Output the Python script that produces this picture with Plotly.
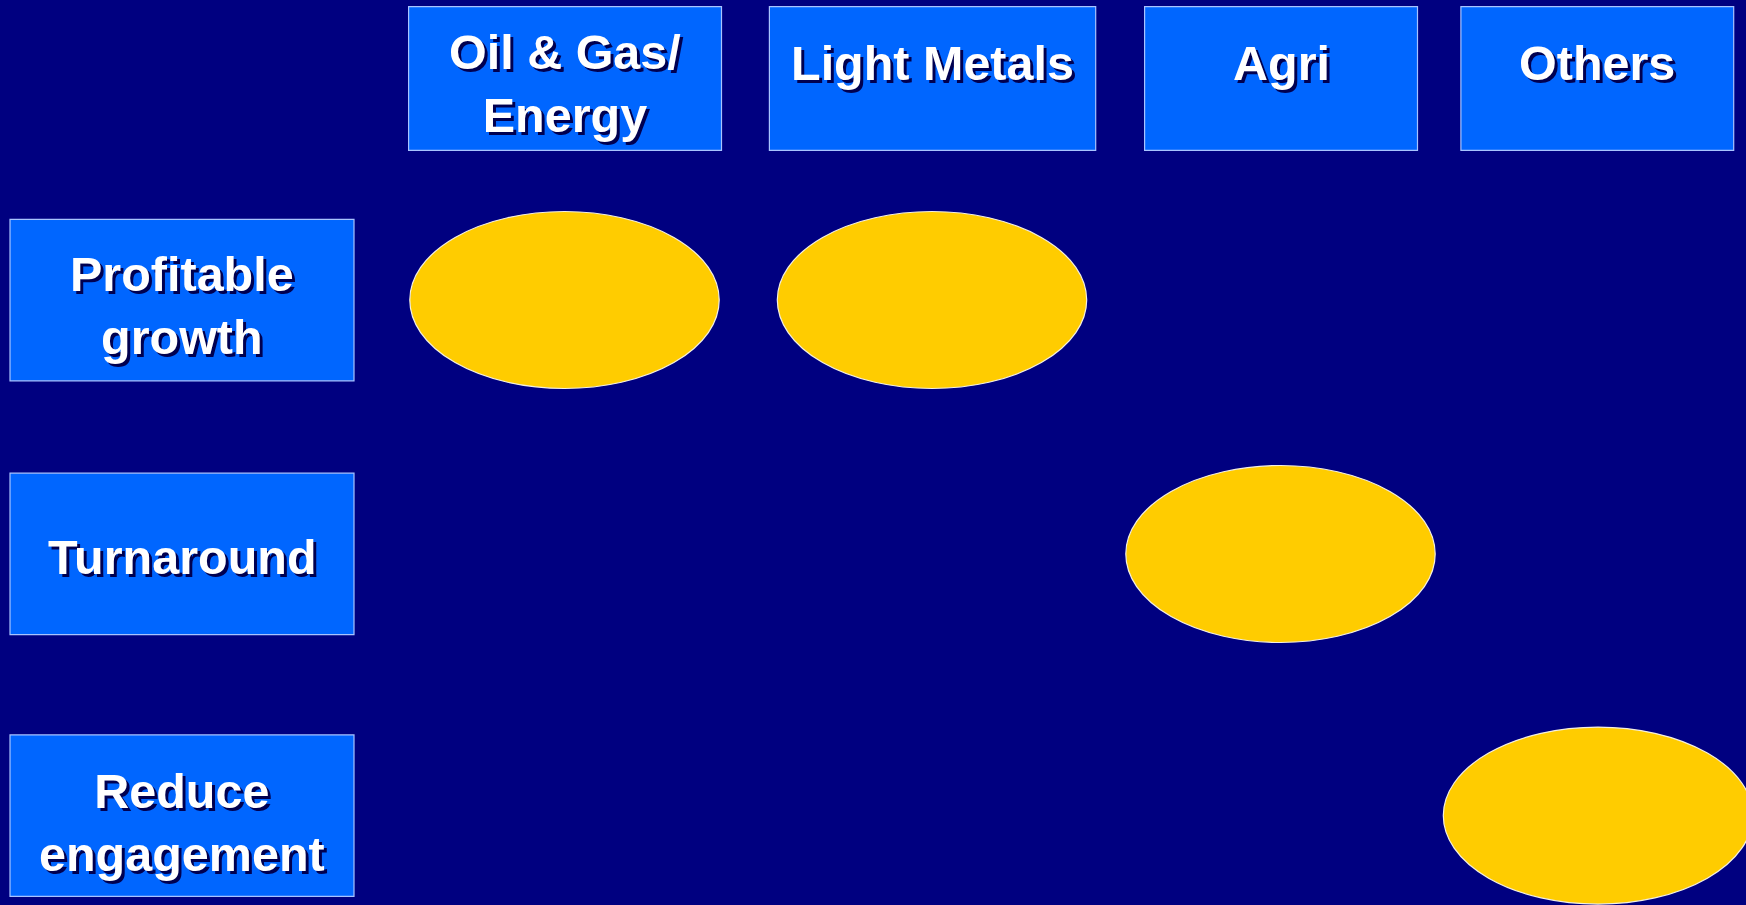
import plotly.graph_objects as go

# Business segments (columns) and strategic postures (rows)
segments = ["Oil & Gas/<br>Energy", "Light Metals", "Agri", "Others"]
postures = ["Profitable<br>growth", "Turnaround", "Reduce<br>engagement"]
# Posture assigned to each segment (index into postures)
segment_posture = [0, 0, 1, 2]

# Page geometry (pixel-like axis units)
W, H = 1746, 905
col_box_x0 = [408.6, 769.4, 1144.6, 1460.9]
col_box_x1 = [721.5, 1095.7, 1417.5, 1733.7]
col_box_y = (6.7, 150.3)
col_marker_x = [564.5, 932.0, 1280.5, 1598.0]
col_text_y = [83, 63, 63, 63]

row_box_x = (10.0, 354.0)
row_box_y0 = [219.4, 473.2, 734.9]
row_box_y1 = [380.8, 634.7, 896.4]
row_marker_y = [300.0, 554.0, 815.6]
row_text_y = [305, 557, 822]

ell_rx, ell_ry = 154.7, 88.5

BG = "#000080"
BOX = "#0066FF"
BOX_LINE = "#A8C4FF"
GOLD = "#FFCC00"
FONT = dict(family="Liberation Sans, Arial, sans-serif", size=48.5, color="white",
            weight="bold", shadow="3px 3px 0px #000050")

fig = go.Figure()
fig.add_trace(go.Scatter(x=[0, W], y=[0, H], mode="markers",
                         marker=dict(opacity=0), hoverinfo="skip", showlegend=False))

shapes = []
annotations = []

for i, name in enumerate(segments):
    shapes.append(dict(type="rect", xref="x", yref="y",
                       x0=col_box_x0[i], x1=col_box_x1[i],
                       y0=col_box_y[0], y1=col_box_y[1],
                       fillcolor=BOX, line=dict(color=BOX_LINE, width=1.2), layer="below"))
    annotations.append(dict(x=(col_box_x0[i] + col_box_x1[i]) / 2, y=col_text_y[i],
                            xref="x", yref="y", text=name, showarrow=False,
                            xanchor="center", yanchor="middle", align="center", font=FONT))

for j, name in enumerate(postures):
    shapes.append(dict(type="rect", xref="x", yref="y",
                       x0=row_box_x[0], x1=row_box_x[1],
                       y0=row_box_y0[j], y1=row_box_y1[j],
                       fillcolor=BOX, line=dict(color=BOX_LINE, width=1.2), layer="below"))
    annotations.append(dict(x=(row_box_x[0] + row_box_x[1]) / 2, y=row_text_y[j],
                            xref="x", yref="y", text=name, showarrow=False,
                            xanchor="center", yanchor="middle", align="center", font=FONT))

for i, p in enumerate(segment_posture):
    cx, cy = col_marker_x[i], row_marker_y[p]
    shapes.append(dict(type="circle", xref="x", yref="y",
                       x0=cx - ell_rx, x1=cx + ell_rx, y0=cy - ell_ry, y1=cy + ell_ry,
                       fillcolor=GOLD, line=dict(color="#F4F0E0", width=1.2), layer="below"))

fig.update_layout(
    width=W, height=H,
    margin=dict(l=0, r=0, t=0, b=0),
    paper_bgcolor=BG, plot_bgcolor=BG,
    xaxis=dict(range=[0, W], visible=False, fixedrange=True),
    yaxis=dict(range=[H, 0], visible=False, fixedrange=True),
    shapes=shapes, annotations=annotations,
    showlegend=False,
)

fig.write_html("out.html", config=dict(displayModeBar=False))
